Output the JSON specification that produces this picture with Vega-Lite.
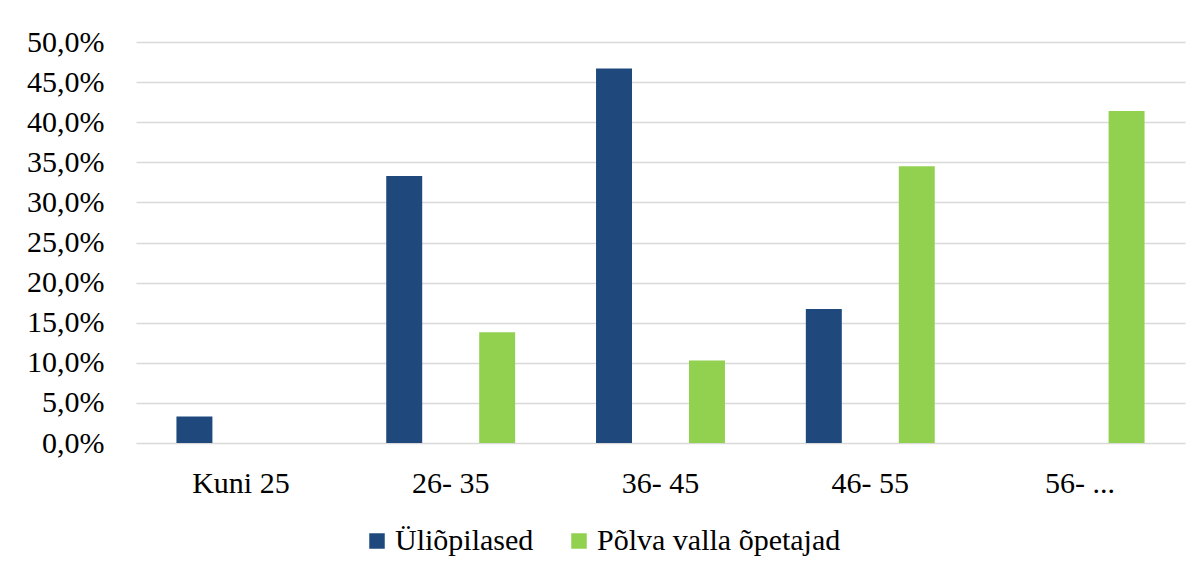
{
  "$schema": "https://vega.github.io/schema/vega-lite/v6.json",
  "width": 1049,
  "height": 401,
  "autosize": {"type": "none"},
  "padding": {"left": 136, "top": 42, "right": 16, "bottom": 138},
  "background": "white",
  "data": {
    "values": [
      {"vanus": "Kuni 25", "grupp": "Üliõpilased", "osakaal": 0.033},
      {"vanus": "Kuni 25", "grupp": "Põlva valla õpetajad", "osakaal": 0.0},
      {"vanus": "26- 35", "grupp": "Üliõpilased", "osakaal": 0.333},
      {"vanus": "26- 35", "grupp": "Põlva valla õpetajad", "osakaal": 0.138},
      {"vanus": "36- 45", "grupp": "Üliõpilased", "osakaal": 0.467},
      {"vanus": "36- 45", "grupp": "Põlva valla õpetajad", "osakaal": 0.103},
      {"vanus": "46- 55", "grupp": "Üliõpilased", "osakaal": 0.167},
      {"vanus": "46- 55", "grupp": "Põlva valla õpetajad", "osakaal": 0.345},
      {"vanus": "56- ...", "grupp": "Üliõpilased", "osakaal": 0.0},
      {"vanus": "56- ...", "grupp": "Põlva valla õpetajad", "osakaal": 0.414}
    ]
  },
  "mark": {"type": "bar"},
  "encoding": {
    "x": {
      "field": "vanus",
      "type": "nominal",
      "sort": null,
      "scale": {"paddingInner": 0, "paddingOuter": 0},
      "axis": {
        "title": null,
        "labelAngle": 0,
        "ticks": false,
        "tickSize": 0,
        "domain": false,
        "grid": false,
        "labelPadding": 25,
        "labelFont": "Liberation Serif",
        "labelFontSize": 30,
        "labelColor": "#000000"
      }
    },
    "xOffset": {
      "field": "grupp",
      "type": "nominal",
      "sort": ["Üliõpilased", "Põlva valla õpetajad"],
      "scale": {"paddingInner": 0.613, "paddingOuter": 0.435}
    },
    "y": {
      "field": "osakaal",
      "type": "quantitative",
      "scale": {"domain": [0, 0.5], "nice": false},
      "axis": {
        "title": null,
        "values": [0, 0.05, 0.1, 0.15, 0.2, 0.25, 0.3, 0.35, 0.4, 0.45, 0.5],
        "labelExpr": "replace(format(datum.value, '.1%'), '.', ',')",
        "ticks": false,
        "tickSize": 0,
        "domain": false,
        "labelPadding": 32,
        "labelFont": "Liberation Serif",
        "labelFontSize": 30,
        "labelColor": "#000000",
        "gridColor": "#d9d9d9",
        "gridWidth": 1.5
      }
    },
    "color": {
      "field": "grupp",
      "type": "nominal",
      "sort": ["Üliõpilased", "Põlva valla õpetajad"],
      "scale": {
        "domain": ["Üliõpilased", "Põlva valla õpetajad"],
        "range": ["#1F497D", "#92D050"]
      },
      "legend": {
        "title": null,
        "orient": "none",
        "direction": "horizontal",
        "legendX": 226,
        "legendY": 484,
        "symbolType": "square",
        "symbolSize": 240,
        "symbolStrokeWidth": 0,
        "labelFont": "Liberation Serif",
        "labelFontSize": 30,
        "labelColor": "#000000",
        "labelOffset": 3,
        "labelLimit": 0,
        "columnPadding": 30,
        "padding": 0
      }
    }
  },
  "config": {
    "view": {"stroke": null}
  }
}
